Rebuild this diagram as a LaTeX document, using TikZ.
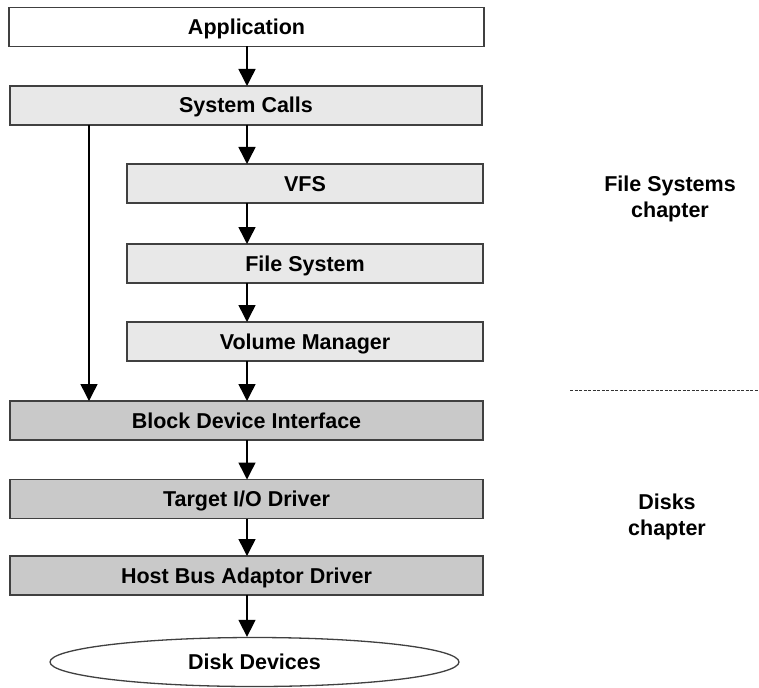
\documentclass[tikz,border=0pt]{standalone}
\usepackage{fontspec}
\setmainfont{Liberation Sans}
\usetikzlibrary{shapes.geometric,arrows.meta,positioning,calc}

\begin{document}
\begin{tikzpicture}[
    x=1pt, y=-1pt,
    font=\fontsize{21.5}{26}\selectfont\bfseries,
    layer/.style={draw=black!75, line width=1.3pt, minimum height=39pt, inner sep=0pt, outer sep=0pt,
                  text height=17pt, text depth=2pt},
    upper/.style={layer, fill=black!9},
    lower/.style={layer, fill=black!21},
    arr/.style={draw=black, line width=1.5pt, -{Triangle[width=17pt, length=17pt]}},
    note/.style={align=center}
]
    \useasboundingbox (0,0) rectangle (759,687);

    % Stack of layers, top to bottom
    \node[layer, fill=white, minimum width=475pt] (app) at (246.5, 27) {Application};
    \node[upper, minimum width=472pt] (sys) at (246, 105.5) {System Calls};
    \node[upper, minimum width=356pt] (vfs) at (305, 183.5) {VFS};
    \node[upper, minimum width=356pt] (fs) at (305, 263.5) {File System};
    \node[upper, minimum width=356pt] (vm) at (305, 341.5) {Volume Manager};
    \node[lower, minimum width=473pt] (bdi) at (246.5, 420.5) {Block Device Interface};
    \node[lower, minimum width=473pt] (tio) at (246.5, 499) {Target I/O Driver};
    \node[lower, minimum width=473pt] (hba) at (246.5, 575.5) {Host Bus Adaptor Driver};
    \node[draw=black!75, line width=1.3pt, fill=white, ellipse, inner sep=0pt,
          text height=17pt, text depth=2pt,
          minimum width=409pt, minimum height=49pt] (disk) at (254.5, 662) {Disk Devices};

    % Connectors
    \coordinate (main) at (247, 0);
    \coordinate (bypass) at (89, 0);
    \draw[arr] (app.south -| main) -- (sys.north -| main);
    \draw[arr] (sys.south -| main) -- (vfs.north -| main);
    \draw[arr] (vfs.south -| main) -- (fs.north -| main);
    \draw[arr] (fs.south -| main) -- (vm.north -| main);
    \draw[arr] (vm.south -| main) -- (bdi.north -| main);
    \draw[arr] (sys.south -| bypass) -- (bdi.north -| bypass);
    \draw[arr] (bdi.south -| main) -- (tio.north -| main);
    \draw[arr] (tio.south -| main) -- (hba.north -| main);
    \draw[arr] (hba.south -| main) -- (disk.north -| main);

    % Chapter labels and divider
    \node[note] (fschap) at (670, 199) {File Systems\\chapter};
    \node[note] (dkchap) at (667, 517) {Disks\\chapter};
    \coordinate (divl) at (570, 390);
    \coordinate (divr) at (759, 390);
    \draw[black!80, line width=0.9pt, dash pattern=on 3pt off 1.5pt] (divl) -- (divr);

\end{tikzpicture}
\end{document}
